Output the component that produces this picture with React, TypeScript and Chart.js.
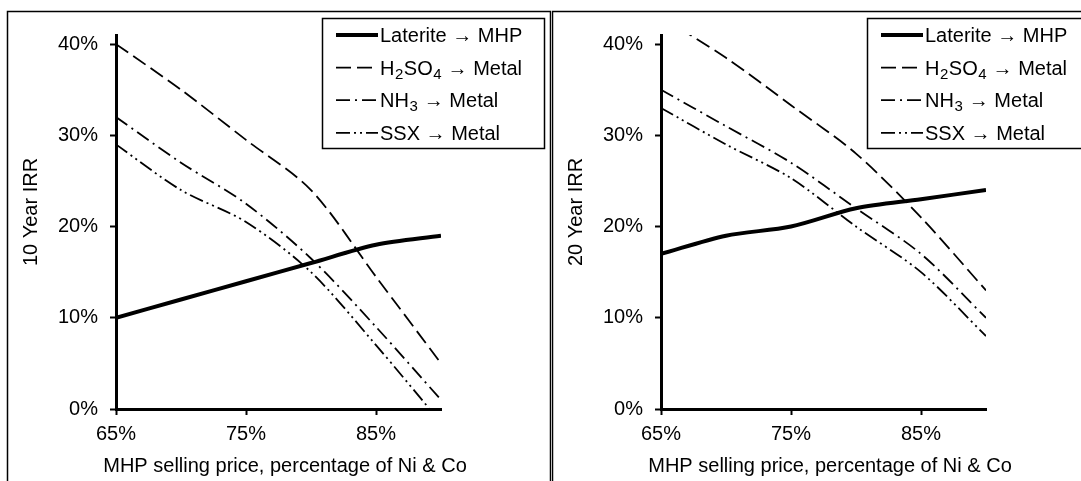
import React, { useEffect, useRef } from "react";
import { Chart, registerables } from "chart.js";

Chart.register(...registerables);

// ---- Data ----
const xValues = [65, 70, 75, 80, 85, 90];
const seriesNames = ["Laterite → MHP", "H₂SO₄ → Metal", "NH₃ → Metal", "SSX → Metal"];

const laterite10 = [10, 12, 14, 16, 18, 19];
const h2so4_10 = [40, 35, 29.5, 24, 14.5, 5];
const nh3_10 = [32, 27, 22.5, 16.5, 9, 1];
const ssx_10 = [29, 24, 20.5, 15, 7, -1.5];

const laterite20 = [17, 19, 20, 22, 23, 24];
const h2so4_20 = [43, 38.5, 33.3, 28, 21, 13];
const nh3_20 = [35, 31, 27, 22, 17, 10];
const ssx_20 = [33, 29, 25.3, 20, 15, 8];

const xTicks = [65, 75, 85];
const yTicks = [0, 10, 20, 30, 40];
const xTitle = "MHP selling price, percentage of Ni & Co";
const yTitle10 = "10 Year IRR";
const yTitle20 = "20 Year IRR";

// ---- Styles ----
const FONT = '"Liberation Sans", Arial, Helvetica, sans-serif';
const lineWidths = [4, 1.8, 1.8, 1.8];
const lineDashes: number[][] = [[], [15, 6], [14, 5, 2, 5], [14, 4, 2, 4, 2, 4]];

function drawRich(ctx: CanvasRenderingContext2D, text: string, x: number, y: number, size: number) {
  let cx = x;
  let buf = "";
  const flush = () => {
    if (!buf) return;
    ctx.font = `${size}px ${FONT}`;
    ctx.fillText(buf, cx, y);
    cx += ctx.measureText(buf).width;
    buf = "";
  };
  for (const ch of text) {
    const code = ch.charCodeAt(0);
    if (code >= 0x2080 && code <= 0x2089) {
      flush();
      const d = String(code - 0x2080);
      ctx.font = `${Math.round(size * 0.74)}px ${FONT}`;
      ctx.fillText(d, cx + 0.5, y + size * 0.2);
      cx += ctx.measureText(d).width + 1;
    } else {
      buf += ch;
    }
  }
  flush();
}

const decorPlugin = {
  id: "panelDecor",
  beforeDraw(chart: any) {
    const ctx = chart.ctx as CanvasRenderingContext2D;
    ctx.save();
    ctx.strokeStyle = "#000";
    ctx.lineWidth = 1.5;
    ctx.strokeRect(7.5, 11.5, 543, 520);
    ctx.restore();
  },
  afterDraw(chart: any, _args: any, opts: any) {
    const ctx = chart.ctx as CanvasRenderingContext2D;
    ctx.save();
    ctx.fillStyle = "#000";
    // axis titles
    ctx.font = `20px ${FONT}`;
    ctx.textAlign = "center";
    ctx.textBaseline = "alphabetic";
    ctx.fillText(xTitle, 285, 472);
    ctx.save();
    ctx.translate(37, 212);
    ctx.rotate(-Math.PI / 2);
    ctx.fillText(opts.yTitle, 0, 0);
    ctx.restore();

    // legend
    const bx = 322.5, by = 18.5, bw = 222, bh = 130;
    ctx.fillStyle = "#fff";
    ctx.fillRect(bx, by, bw, bh);
    ctx.strokeStyle = "#000";
    ctx.lineWidth = 1.5;
    ctx.strokeRect(bx, by, bw, bh);
    ctx.textAlign = "left";
    chart.data.datasets.forEach((ds: any, i: number) => {
      const base = 42 + i * 32.6;
      const ly = base - 7;
      ctx.save();
      ctx.strokeStyle = "#000";
      ctx.lineWidth = ds.borderWidth;
      ctx.setLineDash(ds.borderDash || []);
      ctx.beginPath();
      ctx.moveTo(336, ly);
      ctx.lineTo(378, ly);
      ctx.stroke();
      ctx.restore();
      ctx.fillStyle = "#000";
      drawRich(ctx, ds.label, 380, base, 20);
    });
    ctx.restore();
  },
};

function Panel({ left, width, yTitle, series }: { left: number; width: number; yTitle: string; series: number[][] }) {
  const ref = useRef<HTMLCanvasElement>(null);
  useEffect(() => {
    const canvas = ref.current!;
    const chart = new Chart(canvas, {
      type: "line",
      data: {
        datasets: series.map((vals, i) => ({
          label: seriesNames[i],
          data: xValues.map((x, j) => ({ x, y: vals[j] })),
          borderColor: "#000",
          backgroundColor: "#000",
          borderWidth: lineWidths[i],
          borderDash: lineDashes[i],
          borderCapStyle: "butt",
          pointRadius: 0,
          tension: 0.3,
          fill: false,
        })),
      },
      options: {
        animation: false,
        responsive: false,
        devicePixelRatio: 1,
        layout: { padding: { left: 0, top: 35, right: width - 441, bottom: 0 } },
        plugins: {
          legend: { display: false },
          tooltip: { enabled: false },
          panelDecor: { yTitle },
        } as any,
        scales: {
          x: {
            type: "linear",
            min: 65,
            max: 90,
            afterBuildTicks: (s: any) => {
              s.ticks = xTicks.map((v) => ({ value: v }));
            },
            afterFit: (s: any) => {
              s.height = 72;
            },
            grid: { drawOnChartArea: false, drawTicks: true, tickLength: 6, tickWidth: 2, tickColor: "#000" },
            border: { display: true, color: "#000", width: 3 },
            ticks: {
              color: "#000",
              font: { family: FONT, size: 20 },
              padding: 7,
              maxRotation: 0,
              callback: (v: any) => v + "%",
            },
          },
          y: {
            type: "linear",
            min: 0,
            max: 41,
            afterBuildTicks: (s: any) => {
              s.ticks = yTicks.map((v) => ({ value: v }));
            },
            afterFit: (s: any) => {
              s.width = 116;
            },
            grid: { drawOnChartArea: false, drawTicks: true, tickLength: 6, tickWidth: 2, tickColor: "#000" },
            border: { display: true, color: "#000", width: 3 },
            ticks: {
              color: "#000",
              font: { family: FONT, size: 20 },
              padding: 12,
              callback: (v: any) => v + "%",
            },
          },
        },
      } as any,
      plugins: [decorPlugin],
    });
    return () => chart.destroy();
  }, []);
  return (
    <canvas
      ref={ref}
      width={width}
      height={481}
      style={{ position: "absolute", left, top: 0, width, height: 481 }}
    />
  );
}

export default function App() {
  return (
    <div style={{ position: "fixed", left: 0, top: 0, width: 1081, height: 481, background: "#fff", overflow: "hidden" }}>
      <Panel left={0} width={551} yTitle={yTitle10} series={[laterite10, h2so4_10, nh3_10, ssx_10]} />
      <Panel left={545} width={536} yTitle={yTitle20} series={[laterite20, h2so4_20, nh3_20, ssx_20]} />
    </div>
  );
}
